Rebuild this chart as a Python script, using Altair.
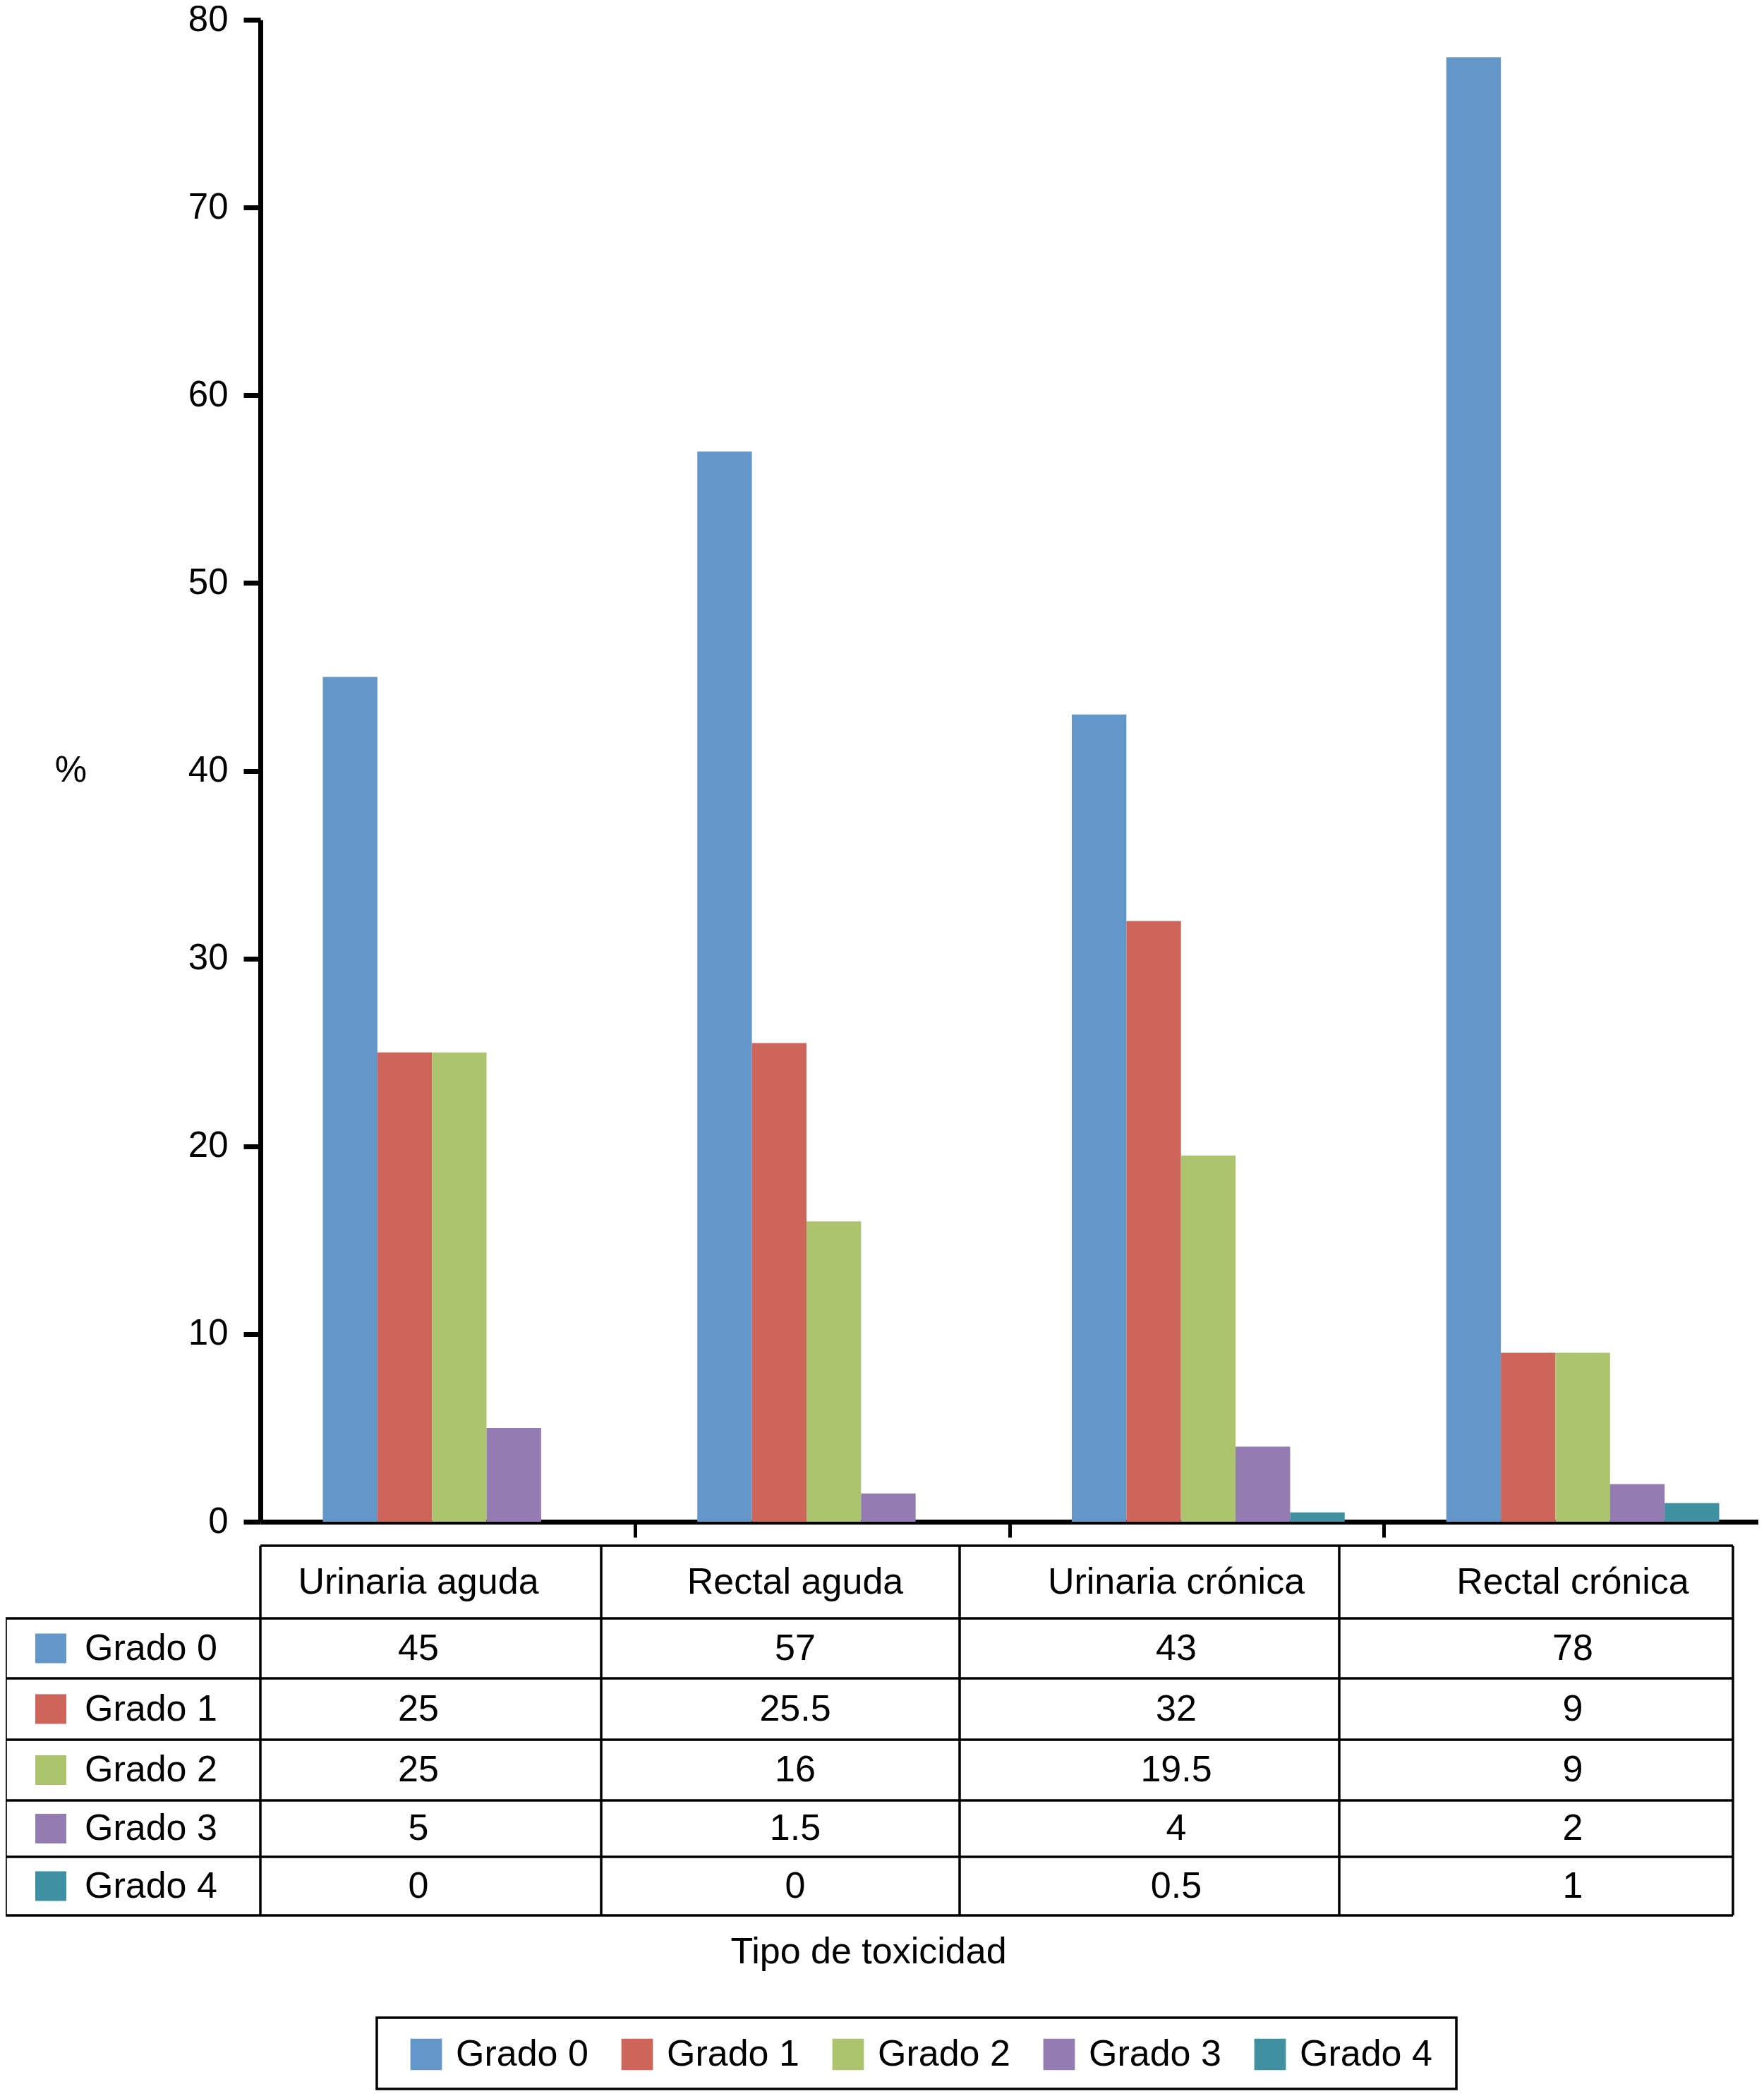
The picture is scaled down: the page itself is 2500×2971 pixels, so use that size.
import altair as alt
import pandas as pd

# ---------------- data ----------------
CATEGORIES = ["Urinaria aguda", "Rectal aguda", "Urinaria crónica", "Rectal crónica"]
GRADES = ["Grado 0", "Grado 1", "Grado 2", "Grado 3", "Grado 4"]
GRADO_0 = [45, 57, 43, 78]
GRADO_1 = [25, 25.5, 32, 9]
GRADO_2 = [25, 16, 19.5, 9]
GRADO_3 = [5, 1.5, 4, 2]
GRADO_4 = [0, 0, 0.5, 1]
SERIES = [GRADO_0, GRADO_1, GRADO_2, GRADO_3, GRADO_4]
COLORS = ["#6497C9", "#CD655B", "#ACC46E", "#947CB2", "#3F90A0"]
Y_TICKS = [0, 10, 20, 30, 40, 50, 60, 70, 80]
Y_TITLE = "%"
X_TITLE = "Tipo de toxicidad"

FONT = "Liberation Sans"

# ---------------- layout (page pixels) ----------------
PAGE_W, PAGE_H = 2500, 2971
ORIGIN_X, ORIGIN_Y = 369, 28          # plot-area origin on the page
PLOT_W, PLOT_H = 2123, 2129
COL_EDGES = [8, 369, 852, 1360, 1898, 2456]
ROW_EDGES = [2191, 2294, 2379, 2466, 2552, 2632, 2715]
TEXT_X = [593, 1127, 1667, 2229]      # centre of text in each data column
LABEL_X = 120                          # left edge of "Grado n" text in table
SWATCH_X = 72
SWATCH_HALF = 22
XTITLE_POS = (1231, 2767)
LEGEND_BOX = (534, 2860, 2064, 2961)   # x, y, x2, y2
LEGEND_ITEMS_X = 578
LEGEND_ITEMS_Y = 2886

rows = []
for g, vals in zip(GRADES, SERIES):
    for c, v in zip(CATEGORIES, vals):
        rows.append({"categoria": c, "grado": g, "valor": v})
bars_df = pd.DataFrame(rows)

# table grid lines
lines = []
lines.append({"x": COL_EDGES[1], "x2": COL_EDGES[-1], "y": ROW_EDGES[0], "y2": ROW_EDGES[0]})
for yv in ROW_EDGES[1:]:
    lines.append({"x": COL_EDGES[0], "x2": COL_EDGES[-1], "y": yv, "y2": yv})
lines.append({"x": COL_EDGES[0], "x2": COL_EDGES[0], "y": ROW_EDGES[1], "y2": ROW_EDGES[-1]})
for xv in COL_EDGES[1:]:
    lines.append({"x": xv, "x2": xv, "y": ROW_EDGES[0], "y2": ROW_EDGES[-1]})
lines_df = pd.DataFrame(lines)

row_centers = [(ROW_EDGES[i] + ROW_EDGES[i + 1]) / 2 for i in range(len(ROW_EDGES) - 1)]

texts = []
for c, tx in zip(CATEGORIES, TEXT_X):
    texts.append({"x": tx, "y": row_centers[0], "t": c})
for gi, vals in enumerate(SERIES):
    for v, tx in zip(vals, TEXT_X):
        texts.append({"x": tx, "y": row_centers[gi + 1], "t": "{:g}".format(v)})
texts.append({"x": XTITLE_POS[0], "y": XTITLE_POS[1], "t": X_TITLE})
texts_df = pd.DataFrame(texts)

labels_df = pd.DataFrame([
    {"x": LABEL_X, "y": row_centers[i + 1], "t": g} for i, g in enumerate(GRADES)
])
swatch_df = pd.DataFrame([
    {"x": SWATCH_X - SWATCH_HALF, "x2": SWATCH_X + SWATCH_HALF,
     "y": row_centers[i + 1] - SWATCH_HALF + 1, "y2": row_centers[i + 1] + SWATCH_HALF - 1,
     "c": COLORS[i]} for i in range(len(GRADES))
])
box_df = pd.DataFrame([{"x": LEGEND_BOX[0], "y": LEGEND_BOX[1],
                        "x2": LEGEND_BOX[2], "y2": LEGEND_BOX[3]}])

tx_scale = alt.Scale(domain=[0, PAGE_W], range=[-ORIGIN_X, PAGE_W - ORIGIN_X], nice=False, zero=False)
ty_scale = alt.Scale(domain=[0, PAGE_H], range=[-ORIGIN_Y, PAGE_H - ORIGIN_Y], nice=False, zero=False)

# ---------------- bars ----------------
step0 = PLOT_W / len(CATEGORIES)
p_in = 144 / step0
p_out = p_in / 2
p_align = 0.6146
step = PLOT_W / (len(CATEGORIES) - p_in + 2 * p_out)
start = (PLOT_W - step * (len(CATEGORIES) - p_in)) * p_align
band_center = start + step * (1 - p_in) / 2
tick_off = step - band_center

bars = alt.Chart(bars_df).mark_bar().encode(
    x=alt.X("categoria:N", sort=CATEGORIES,
            scale=alt.Scale(paddingInner=p_in, paddingOuter=p_out, align=p_align),
            axis=alt.Axis(labels=False, title=None, domainWidth=7, domainColor="black",
                          values=CATEGORIES[:-1],
                          ticks=True, tickSize=22, tickWidth=5, tickColor="black",
                          tickOffset=tick_off, grid=False)),
    xOffset=alt.XOffset("grado:N", sort=GRADES, scale=alt.Scale(paddingInner=0, paddingOuter=0)),
    y=alt.Y("valor:Q", scale=alt.Scale(domain=[0, 80], nice=False),
            axis=alt.Axis(values=Y_TICKS, title=Y_TITLE, titleAngle=0,
                          titleX=100 - ORIGIN_X, titleY=(PLOT_H) / 2,
                          titleAlign="center", titleBaseline="middle",
                          titleFontSize=51, titleFontWeight="normal", titleFont=FONT,
                          titleColor="black",
                          labelFontSize=51, labelFont=FONT, labelColor="black", labelPadding=22,
                          tickSize=24, tickWidth=7, tickColor="black",
                          domainWidth=7, domainColor="black", grid=False)),
    color=alt.Color("grado:N", sort=GRADES,
                    scale=alt.Scale(domain=GRADES, range=COLORS),
                    legend=alt.Legend(title=None, orient="none", direction="horizontal",
                                      columns=5, legendX=LEGEND_ITEMS_X - ORIGIN_X,
                                      legendY=LEGEND_ITEMS_Y - ORIGIN_Y,
                                      symbolType="square", symbolSize=2000, symbolStrokeWidth=0,
                                      symbolOpacity=1,
                                      labelFontSize=52, labelFont=FONT, labelColor="black",
                                      labelLimit=0, labelOffset=16, columnPadding=43,
                                      padding=0)),
)

grid = alt.Chart(lines_df).mark_rule(color="black", strokeWidth=3.5).encode(
    x=alt.X("x:Q", scale=tx_scale, axis=None),
    x2="x2:Q",
    y=alt.Y("y:Q", scale=ty_scale, axis=None),
    y2="y2:Q",
)

legend_box = alt.Chart(box_df).mark_rect(fill=None, stroke="black", strokeWidth=3.5).encode(
    x=alt.X("x:Q", scale=tx_scale, axis=None),
    x2="x2:Q",
    y=alt.Y("y:Q", scale=ty_scale, axis=None),
    y2="y2:Q",
)

swatches = alt.Chart(swatch_df).mark_rect().encode(
    x=alt.X("x:Q", scale=tx_scale, axis=None),
    x2="x2:Q",
    y=alt.Y("y:Q", scale=ty_scale, axis=None),
    y2="y2:Q",
    color=alt.Color("c:N", scale=None),
)

cell_text = alt.Chart(texts_df).mark_text(align="center", baseline="middle",
                                          fontSize=52, font=FONT, color="black").encode(
    x=alt.X("x:Q", scale=tx_scale, axis=None),
    y=alt.Y("y:Q", scale=ty_scale, axis=None),
    text="t:N",
)

label_text = alt.Chart(labels_df).mark_text(align="left", baseline="middle",
                                            fontSize=52, font=FONT, color="black").encode(
    x=alt.X("x:Q", scale=tx_scale, axis=None),
    y=alt.Y("y:Q", scale=ty_scale, axis=None),
    text="t:N",
)

chart = alt.layer(bars, grid, legend_box, swatches, cell_text, label_text).resolve_scale(
    x="independent", y="independent", color="independent"
).properties(
    width=PLOT_W, height=PLOT_H,
    autosize=alt.AutoSizeParams(type="none"),
    padding={"left": ORIGIN_X - 8, "top": ORIGIN_Y - 8, "right": 0, "bottom": 806},
    background="white",
).configure_view(stroke=None)

chart.save("out.html", embed_options={"renderer": "svg", "actions": False})
